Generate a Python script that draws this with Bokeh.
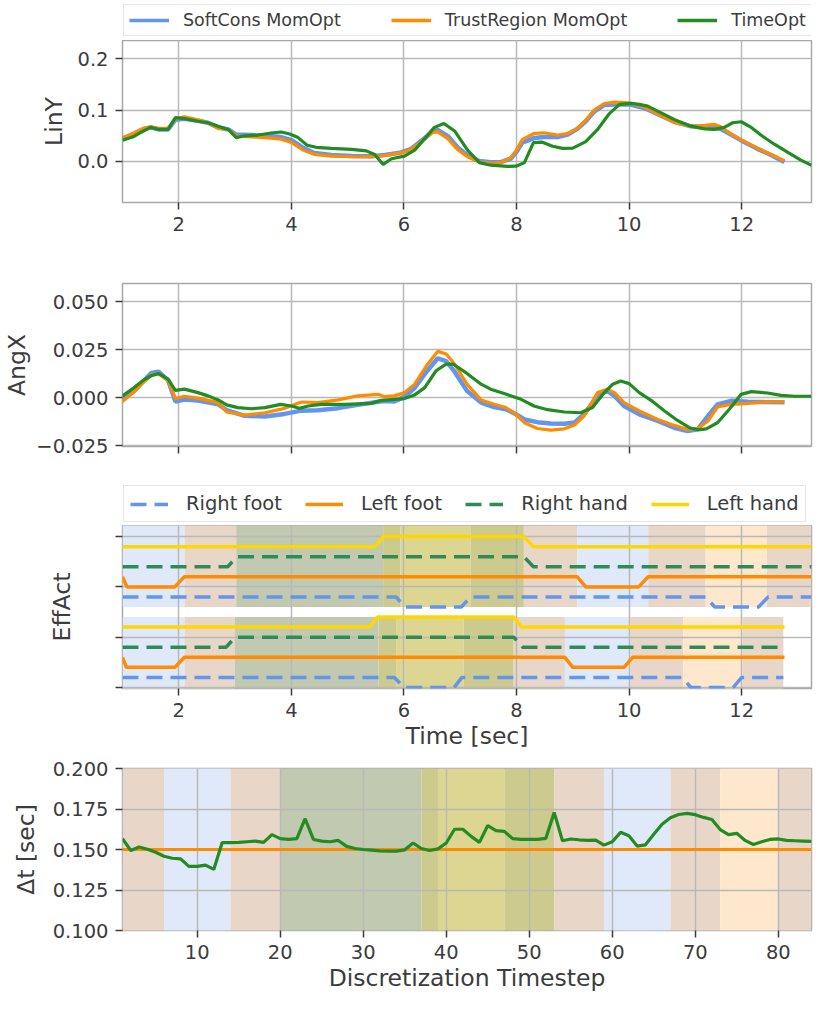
import numpy as np
from bokeh.plotting import figure
from bokeh.models import (Range1d, FixedTicker, CustomJSTickFormatter, Legend,
                          LegendItem, ColumnDataSource)
from bokeh.layouts import column
from bokeh.embed import file_html
from bokeh.resources import INLINE

# ---------------- data ----------------
# LinY (momentum-optimisation runs share a time grid)
t_mom_lin = [1.0, 1.19, 1.37, 1.5, 1.64, 1.81, 1.94, 2.1, 2.34, 2.52,
             2.7, 2.88, 3.02, 3.29, 3.59, 3.82, 4.0, 4.21, 4.41, 4.71,
             5.07, 5.42, 5.66, 5.95, 6.13, 6.31, 6.51, 6.6, 6.78, 6.95,
             7.13, 7.34, 7.54, 7.72, 7.9, 8.0, 8.1, 8.31, 8.49, 8.73,
             8.91, 9.08, 9.23, 9.38, 9.56, 9.74, 10.0, 10.27, 10.51, 10.8,
             11.1, 11.34, 11.51, 11.63, 11.81, 12.0, 12.28, 12.52, 12.76]
softcons_liny = [0.044, 0.053, 0.063, 0.066, 0.062, 0.062, 0.081, 0.083, 0.079, 0.075,
                 0.066, 0.062, 0.052, 0.051, 0.049, 0.047, 0.041, 0.026, 0.016, 0.012,
                 0.010, 0.0095, 0.012, 0.017, 0.024, 0.040, 0.058, 0.061, 0.049, 0.027,
                 0.011, 0.0, -0.002, -0.002, 0.005, 0.018, 0.036, 0.045, 0.047, 0.047,
                 0.052, 0.063, 0.078, 0.097, 0.110, 0.111, 0.111, 0.104, 0.092, 0.077,
                 0.068, 0.066, 0.065, 0.063, 0.052, 0.040, 0.024, 0.012, -0.002]
trust_liny = [0.0456, 0.054, 0.064, 0.067, 0.064, 0.064, 0.083, 0.0866, 0.081, 0.075,
              0.064, 0.062, 0.049, 0.0476, 0.0456, 0.043, 0.0365, 0.0215, 0.013, 0.0098,
              0.0085, 0.0085, 0.011, 0.016, 0.023, 0.038, 0.0567, 0.0573, 0.044, 0.023,
              0.0085, -0.002, -0.0046, -0.003, 0.007, 0.0215, 0.042, 0.054, 0.0554, 0.051,
              0.054, 0.064, 0.080, 0.0997, 0.1127, 0.1153, 0.114, 0.106, 0.092, 0.076,
              0.068, 0.070, 0.072, 0.067, 0.053, 0.041, 0.025, 0.013, 0.0007]
t_time_lin = [1.0, 1.19, 1.34, 1.5, 1.64, 1.81, 1.94, 2.1, 2.34, 2.52,
              2.7, 2.88, 3.02, 3.17, 3.41, 3.64, 3.82, 3.97, 4.12, 4.28,
              4.44, 4.71, 5.07, 5.33, 5.48, 5.63, 5.78, 6.01, 6.19, 6.37,
              6.54, 6.71, 6.9, 7.13, 7.34, 7.54, 7.84, 7.99, 8.14, 8.3,
              8.46, 8.64, 8.82, 9.0, 9.23, 9.44, 9.65, 9.83, 10.03, 10.18,
              10.33, 10.57, 10.8, 11.1, 11.34, 11.51, 11.69, 11.84, 11.99, 12.17,
              12.34, 12.58, 12.82, 13.05, 13.24]
timeopt_liny = [0.041, 0.0476, 0.057, 0.066, 0.062, 0.062, 0.085, 0.083, 0.078, 0.075,
                0.068, 0.062, 0.046, 0.0495, 0.051, 0.055, 0.057, 0.053, 0.046, 0.031,
                0.027, 0.025, 0.023, 0.020, 0.013, -0.0065, 0.0046, 0.0098, 0.0215, 0.044,
                0.066, 0.0736, 0.059, 0.0215, -0.003, -0.008, -0.0104, -0.01, -0.003, 0.036,
                0.037, 0.029, 0.025, 0.0254, 0.038, 0.062, 0.093, 0.111, 0.113, 0.111,
                0.1075, 0.0945, 0.0814, 0.0684, 0.063, 0.062, 0.066, 0.075, 0.077, 0.066,
                0.051, 0.033, 0.017, 0.002, -0.008]

# AngX
t_mom_ang = [1.0, 1.19, 1.37, 1.51, 1.64, 1.81, 1.94, 2.1, 2.34, 2.7,
             2.85, 3.17, 3.53, 3.88, 4.18, 4.47, 4.83, 5.18, 5.54, 5.66,
             5.83, 6.01, 6.19, 6.4, 6.6, 6.75, 6.9, 7.12, 7.37, 7.6,
             7.81, 7.99, 8.14, 8.37, 8.61, 8.85, 9.03, 9.2, 9.44, 9.61,
             9.74, 9.91, 10.18, 10.51, 10.8, 11.04, 11.22, 11.4, 11.57, 11.81,
             12.11, 12.4, 12.76]
softcons_angx = [-0.0005, 0.003, 0.0085, 0.0128, 0.0135, 0.009, -0.002, -0.001, -0.0015, -0.0035,
                 -0.0065, -0.0095, -0.0098, -0.0085, -0.0068, -0.0066, -0.0055, -0.0038, -0.0022, -0.0018,
                 -0.002, 0.0005, 0.005, 0.0135, 0.0205, 0.019, 0.0135, 0.0035, -0.0026, -0.0049,
                 -0.0061, -0.0087, -0.0114, -0.0128, -0.0135, -0.0136, -0.013, -0.0087, 0.0009, 0.0035,
                 0.0009, -0.0044, -0.0087, -0.0122, -0.0157, -0.0175, -0.0165, -0.0096, -0.0035, -0.0017,
                 -0.0021, -0.0023, -0.0024]
trust_angx = [-0.0021, 0.0026, 0.0079, 0.0117, 0.0122, 0.0091, -0.0005, 0.0007, -0.0003, -0.0026,
              -0.0075, -0.0091, -0.0079, -0.0056, -0.0023, -0.0026, -0.0012, 0.0009, 0.0017, 0.0005,
              0.0009, 0.0026, 0.007, 0.0166, 0.0241, 0.0227, 0.0175, 0.007, -0.0012, -0.0035,
              -0.0052, -0.0087, -0.0131, -0.0161, -0.017, -0.0163, -0.0143, -0.0096, 0.0026, 0.0044,
              0.0026, -0.0026, -0.007, -0.0114, -0.0145, -0.0166, -0.0161, -0.0122, -0.0049, -0.0035,
              -0.003, -0.0023, -0.0021]
t_time_ang = [1.0, 1.19, 1.37, 1.51, 1.64, 1.81, 1.94, 2.1, 2.34, 2.52,
              2.7, 2.85, 3.05, 3.29, 3.53, 3.81, 4.0, 4.14, 4.3, 4.53,
              4.95, 5.42, 5.6, 5.83, 6.01, 6.19, 6.37, 6.57, 6.75, 6.87,
              7.12, 7.37, 7.54, 7.78, 8.08, 8.31, 8.55, 8.85, 9.14, 9.35,
              9.56, 9.71, 9.85, 10.0, 10.18, 10.39, 10.63, 10.86, 11.07, 11.22,
              11.37, 11.57, 11.78, 11.99, 12.17, 12.46, 12.7, 12.94, 13.24]
timeopt_angx = [0.0009, 0.0049, 0.0091, 0.0114, 0.0126, 0.0096, 0.0038, 0.0044, 0.0026, 0.0009,
                -0.0012, -0.0038, -0.0052, -0.0058, -0.0052, -0.0035, -0.0044, -0.0056, -0.0044, -0.0035,
                -0.0035, -0.003, -0.0014, -0.0009, -0.0005, 0.0014, 0.0052, 0.014, 0.0175, 0.0175,
                0.0126, 0.007, 0.0044, 0.0021, -0.0009, -0.0044, -0.0063, -0.0075, -0.0079, -0.0052,
                0.0026, 0.007, 0.0087, 0.0073, 0.0026, -0.0014, -0.007, -0.0119, -0.0157, -0.0168,
                -0.0163, -0.0131, -0.0061, 0.0017, 0.0031, 0.0024, 0.0012, 0.0007, 0.0007]

# Effector activations: switch times and contact state (1 = in contact)
rf_t_time = [1.0, 5.86, 6.02, 7.02, 7.18, 11.36, 11.52, 12.30, 12.47, 13.24]
rf_s_time = [1, 1, 0, 0, 1, 1, 0, 0, 1, 1]
lf_t_time = [1.0, 1.08, 1.93, 2.10, 9.08, 9.23, 10.17, 10.34, 13.24]
lf_s_time = [1, 0, 0, 1, 1, 0, 0, 1, 1]
rh_t_time = [1.0, 2.87, 3.03, 8.13, 8.30, 13.24]
rh_s_time = [0, 0, 1, 1, 0, 0]
lh_t_time = [1.0, 5.49, 5.63, 8.13, 8.30, 13.24]
lh_s_time = [0, 0, 1, 1, 0, 0]

rf_t_mom = [1.0, 5.83, 6.0, 6.89, 7.03, 10.94, 11.1, 11.85, 12.0, 12.74]
rf_s_mom = [1, 1, 0, 0, 1, 1, 0, 0, 1, 1]
lf_t_mom = [1.0, 1.07, 1.93, 2.10, 8.86, 9.0, 9.91, 10.06, 12.76]
lf_s_mom = [1, 0, 0, 1, 1, 0, 0, 1, 1]
rh_t_mom = [1.0, 2.84, 3.0, 7.95, 8.11, 12.72]
rh_s_mom = [0, 0, 1, 1, 0, 0]
lh_t_mom = [1.0, 5.39, 5.53, 7.95, 8.09, 12.76]
lh_s_mom = [0, 0, 1, 1, 0, 0]

# contact phases (background shading)
phase_bounds_time = [1.0, 2.1, 3.02, 5.63, 5.94, 7.18, 8.13, 9.08, 10.34, 11.36, 12.45, 13.24]
phase_bounds_mom = [1.0, 2.1, 2.99, 5.55, 5.86, 7.06, 7.95, 8.86, 10.03, 10.96, 12.02, 12.74]
phase_contacts_time = ["RF", "RF+LF", "RF+LF+RH", "ALL", "LF+RH+LH", "ALL",
                       "RF+LF", "RF", "RF+LF", "LF", "RF+LF"]
phase_bounds_steps = [1, 6, 14, 20, 37, 39, 47, 53, 59, 67, 73, 80, 84]
phase_contacts_steps = ["RF+LF", "RF", "RF+LF", "RF+LF+RH", "ALL", "LF+RH+LH", "ALL",
                        "RF+LF", "RF", "RF+LF", "LF", "RF+LF"]

# time step sizes
steps = list(range(1, 85))
dt_timeopt = [0.1567, 0.1494, 0.1515, 0.1502, 0.1483, 0.1458, 0.1446, 0.1442, 0.1396, 0.1396,
              0.1404, 0.1377, 0.1542, 0.1542, 0.1544, 0.1548, 0.1552, 0.1544, 0.1592, 0.1567,
              0.1562, 0.1567, 0.169, 0.1562, 0.1552, 0.1548, 0.1556, 0.1519, 0.1506, 0.150,
              0.1496, 0.1492, 0.149, 0.149, 0.1498, 0.154, 0.1506, 0.1494, 0.1504, 0.154,
              0.1625, 0.1625, 0.1581, 0.1544, 0.1648, 0.1617, 0.1612, 0.1567, 0.1562, 0.1562,
              0.1562, 0.1569, 0.1729, 0.1554, 0.1565, 0.156, 0.1556, 0.1558, 0.1527, 0.1548,
              0.1606, 0.1585, 0.1521, 0.1529, 0.1594, 0.1656, 0.1696, 0.1716, 0.1723, 0.1715,
              0.1698, 0.1685, 0.1623, 0.1592, 0.16, 0.1556, 0.1531, 0.1548, 0.1562, 0.1565,
              0.1556, 0.1554, 0.1552, 0.155]
dt_mom = [0.15] * 84

# ---------------- style ----------------
FONT = "DejaVu Sans"
TXT = "#3c3c3c"
GRID = "#b8b8b8"
OUTLINE = "#a8a8a8"
BLUE = "#6495ED"
ORANGE = "#FF8C00"
GREEN = "#228B22"
SEAGREEN = "#2E8B57"
GOLD = "#FFD700"
PHASE_COLORS = {"RF": "#e0e9f9", "LF": "#fee8cd", "RF+LF": "#e8d7c8",
                "RF+LF+RH": "#c2c9b1", "ALL": "#cdca8d", "LF+RH+LH": "#ddd592"}

LEFT, FRAME_W, RIGHT = 116, 689, 9


def make_fig(x_range, y_range, frame_h, top, bottom):
    p = figure(width=LEFT + FRAME_W + RIGHT, height=top + frame_h + bottom,
               frame_width=FRAME_W, frame_height=frame_h,
               x_range=x_range, y_range=y_range,
               min_border_left=LEFT, min_border_right=RIGHT, min_border_top=top,
               min_border_bottom=bottom, toolbar_location=None, output_backend="svg")
    p.title.visible = False
    p.background_fill_color = "white"
    p.border_fill_color = "white"
    p.outline_line_color = OUTLINE
    p.outline_line_width = 1.5
    p.grid.grid_line_color = GRID
    p.grid.grid_line_width = 1.5
    for ax in p.axis:
        ax.axis_line_color = None
        ax.major_tick_line_color = TXT
        ax.major_tick_line_width = 1.5
        ax.major_tick_out = 7
        ax.major_tick_in = 0
        ax.minor_tick_line_color = None
        ax.major_label_standoff = 7
        ax.major_label_text_font = FONT
        ax.major_label_text_font_size = "19.5px"
        ax.major_label_text_color = TXT
        ax.axis_label_text_font = FONT
        ax.axis_label_text_font_size = "23.5px"
        ax.axis_label_text_font_style = "normal"
        ax.axis_label_text_color = TXT
    return p


def legend_fig(h, entries, font_size, glyph_w, standoff, spacing, padding, lift):
    f = figure(width=LEFT + FRAME_W + RIGHT, height=h, frame_width=FRAME_W, frame_height=h,
               x_range=Range1d(0, 1), y_range=Range1d(0, 1),
               min_border_left=LEFT, min_border_right=RIGHT, min_border_top=0,
               min_border_bottom=0, toolbar_location=None, output_backend="svg",
               x_axis_location=None, y_axis_location=None)
    f.title.visible = False
    f.outline_line_color = None
    f.background_fill_color = "white"
    f.border_fill_color = "white"
    f.grid.visible = False
    items = []
    for label, col, width, dash in entries:
        # legend proxy, kept outside the visible range
        r = f.line(x=[5, 6], y=[5, 5], color=col, line_width=width, line_dash=dash)
        items.append(LegendItem(label=label, renderers=[r]))
    leg = Legend(items=items, orientation="horizontal", location=(1, lift),
                 label_text_font=FONT, label_text_font_size=font_size, label_text_color=TXT,
                 glyph_width=glyph_w, glyph_height=20, label_standoff=standoff,
                 spacing=spacing, padding=padding, margin=0,
                 border_line_color="#d0d0d0", border_line_width=1.5,
                 background_fill_color="white", background_fill_alpha=1)
    f.add_layout(leg)
    return f


def fmt(code):
    return CustomJSTickFormatter(code=code)


time_ticks = [2, 4, 6, 8, 10, 12]
DASH = "16 8"

# ---- legend for panels 1-2 ----
lg1 = legend_fig(40, [("SoftCons MomOpt", BLUE, 3.5, "solid"),
                      ("TrustRegion MomOpt", ORANGE, 3.5, "solid"),
                      ("TimeOpt", GREEN, 3.5, "solid")],
                 "17.5px", 40, 14, 50, 5, 4)

# ---- panel 1: LinY ----
p1 = make_fig(Range1d(1.0, 13.24), Range1d(-0.081, 0.236), 162, 0, 71)
p1.xaxis.ticker = FixedTicker(ticks=time_ticks)
p1.yaxis.ticker = FixedTicker(ticks=[0.0, 0.1, 0.2])
p1.yaxis.formatter = fmt("return tick.toFixed(1);")
p1.yaxis.axis_label = "LinY"
p1.yaxis.axis_label_standoff = 6
p1.line(t_mom_lin, softcons_liny, color=BLUE, line_width=4.5)
p1.line(t_mom_lin, trust_liny, color=ORANGE, line_width=3.2)
p1.line(t_time_lin, timeopt_liny, color=GREEN, line_width=3.2)

# ---- panel 2: AngX ----
p2 = make_fig(p1.x_range, Range1d(-0.0255, 0.0595), 163, 10, 39)
p2.xaxis.ticker = FixedTicker(ticks=time_ticks)
p2.xaxis.formatter = fmt('return "";')
p2.yaxis.ticker = FixedTicker(ticks=[-0.025, 0.0, 0.025, 0.05])
p2.yaxis.formatter = fmt('return tick.toFixed(3).replace("-", "\\u2212");')
p2.yaxis.axis_label = "AngX"
p2.yaxis.axis_label_standoff = 2
p2.line(t_mom_ang, softcons_angx, color=BLUE, line_width=4.5)
p2.line(t_mom_ang, trust_angx, color=ORANGE, line_width=3.2)
p2.line(t_time_ang, timeopt_angx, color=GREEN, line_width=3.2)

# ---- legend for panel 3 ----
lg3 = legend_fig(40, [("Right foot", BLUE, 3.5, DASH),
                      ("Left foot", ORANGE, 3.5, "solid"),
                      ("Right hand", SEAGREEN, 3.5, DASH),
                      ("Left hand", GOLD, 3.5, "solid")],
                 "19.5px", 38, 18, 23, 6, 3)

# ---- panel 3: EffAct ----
p3 = make_fig(p1.x_range, Range1d(-0.02, 3.22), 163, 0, 70)
p3.xaxis.ticker = FixedTicker(ticks=time_ticks)
p3.yaxis.ticker = FixedTicker(ticks=[0, 1, 2, 3])
p3.yaxis.formatter = fmt('return "";')
p3.yaxis.axis_label = "EffAct"
p3.yaxis.axis_label_standoff = 40
p3.xaxis.axis_label = "Time [sec]"
p3.xaxis.axis_label_standoff = 2


def shade(p, bounds, contacts, bottom, top):
    src = ColumnDataSource(dict(left=bounds[:-1], right=bounds[1:],
                                color=[PHASE_COLORS[c] for c in contacts]))
    p.quad(left="left", right="right", bottom=bottom, top=top, source=src,
           fill_color="color", line_color=None, level="image")


shade(p3, phase_bounds_time, phase_contacts_time, 1.6, 3.5)
shade(p3, phase_bounds_mom, phase_contacts_time, -0.5, 1.4)

STEP = 0.2
sets = [
    (0.0, (rf_t_mom, rf_s_mom), (lf_t_mom, lf_s_mom), (rh_t_mom, rh_s_mom), (lh_t_mom, lh_s_mom)),
    (1.6, (rf_t_time, rf_s_time), (lf_t_time, lf_s_time), (rh_t_time, rh_s_time), (lh_t_time, lh_s_time)),
]
for base, rf, lf, rh, lh in sets:
    specs = [(rf, 0.0, BLUE, DASH), (lf, 0.4, ORANGE, "solid"),
             (rh, 0.8, SEAGREEN, DASH), (lh, 1.2, GOLD, "solid")]
    for (tt, ss), off, col, dash in specs:
        yy = [base + off + STEP * s for s in ss]
        p3.line(tt, yy, color=col, line_width=3.5, line_dash=dash)

# ---- panel 4: dt ----
p4 = make_fig(Range1d(1, 84), Range1d(0.1, 0.2), 162, 10, 72)
p4.xaxis.ticker = FixedTicker(ticks=[10, 20, 30, 40, 50, 60, 70, 80])
p4.yaxis.ticker = FixedTicker(ticks=[0.1, 0.125, 0.15, 0.175, 0.2])
p4.yaxis.formatter = fmt("return tick.toFixed(3);")
p4.yaxis.axis_label = "\u0394t [sec]"
p4.yaxis.axis_label_standoff = 10
p4.xaxis.axis_label = "Discretization Timestep"
p4.xaxis.axis_label_standoff = 2
shade(p4, phase_bounds_steps, phase_contacts_steps, 0.0, 1.0)
p4.line(steps, dt_mom, color=ORANGE, line_width=3.2)
p4.line(steps, dt_timeopt, color=GREEN, line_width=3.2)

layout = column(lg1, p1, p2, lg3, p3, p4, spacing=0)
open("out.html", "w").write(file_html(layout, INLINE))
